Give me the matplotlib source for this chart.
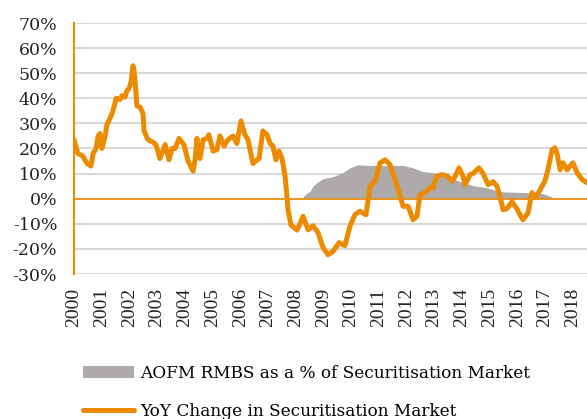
import matplotlib
matplotlib.use("Agg")
import matplotlib.pyplot as plt
from matplotlib.patches import Patch
from matplotlib.lines import Line2D
from matplotlib.ticker import FuncFormatter

# time in years since Jan 2000, values in %
yoy_t = [0.00, 0.14, 0.32, 0.47, 0.61, 0.69, 0.80, 0.87, 0.94, 1.01, 1.12, 1.19, 1.30, 1.41,
         1.52, 1.66, 1.73, 1.84, 1.91, 1.99, 2.06, 2.13, 2.17, 2.24, 2.27, 2.38, 2.49, 2.53,
         2.67, 2.85, 2.96, 3.10, 3.29, 3.43, 3.54, 3.65, 3.79, 3.97, 4.12, 4.30, 4.37, 4.44,
         4.55, 4.66, 4.80, 4.87, 5.02, 5.16, 5.27, 5.42, 5.56, 5.74, 5.88, 6.03, 6.17, 6.28,
         6.46, 6.61, 6.68, 6.82, 6.97, 7.08, 7.18, 7.29, 7.40, 7.51, 7.62, 7.73, 7.83, 8.05,
         8.16, 8.27, 8.45, 8.63, 8.81, 8.99, 9.17, 9.35, 9.57, 9.78, 9.96, 10.14, 10.32, 10.54,
         10.69, 10.87, 11.05, 11.23, 11.41, 11.59, 11.70, 11.88, 12.06, 12.24, 12.38, 12.49,
         12.67, 12.85, 12.96, 13.10, 13.29, 13.47, 13.65, 13.75, 13.90, 14.04, 14.12, 14.30,
         14.40, 14.62, 14.77, 14.95, 15.13, 15.27, 15.38, 15.49, 15.63, 15.81, 15.99, 16.10,
         16.21, 16.39, 16.53, 16.64, 16.79, 17.00, 17.11, 17.26, 17.36, 17.44, 17.55, 17.65,
         17.80, 18.01, 18.16, 18.34, 18.52]
yoy_v = [23.5, 18.0, 17.0, 14.0, 13.0, 18.0, 20.0, 25.0, 26.0, 20.0, 25.0, 29.5, 32.0, 35.0,
         40.0, 39.5, 41.0, 40.5, 43.0, 44.0, 46.5, 53.0, 51.0, 42.0, 37.0, 36.5, 34.0, 27.0,
         23.5, 22.5, 21.5, 16.0, 21.5, 15.5, 20.0, 20.0, 24.0, 21.5, 15.0, 11.0, 15.5, 24.0,
         16.0, 23.5, 24.0, 25.5, 19.0, 19.5, 25.0, 21.0, 23.5, 25.0, 22.0, 31.0, 25.5, 23.5,
         14.0, 15.5, 16.0, 27.0, 25.5, 22.0, 21.0, 15.5, 19.0, 16.0, 9.0, -4.5, -10.5, -12.5,
         -10.0, -7.0, -12.4, -10.8, -13.5, -19.5, -22.3, -21.0, -17.5, -18.7, -11.0, -6.4, -5.0, -6.4,
         5.0, 7.0, 14.3, 15.5, 13.5, 7.6, 3.6, -3.0, -3.0, -8.4, -7.0, 1.6,
         2.4, 4.4, 4.4, 9.0, 9.6, 9.0, 7.0, 8.6, 12.3, 9.0, 5.6, 9.6,
         10.0, 12.3, 10.0, 5.6, 6.8, 5.0, 0.8, -4.4, -4.0, -1.2, -4.0, -6.4,
         -8.4, -5.7, 2.4, 0.4, 2.8, 7.0, 11.5, 19.5, 20.3, 18.0, 11.5, 14.3,
         11.5, 14.3, 10.4, 7.6, 6.4]

aofm_t = [8.23, 8.34, 8.52, 8.63, 8.77, 8.99, 9.35, 9.71, 9.96, 10.25, 10.58, 11.05, 11.52,
          11.88, 12.24, 12.60, 12.96, 13.47, 13.94, 14.40, 14.91, 15.38, 15.85, 16.46, 16.93,
          17.18, 17.36]
aofm_v = [0.0, 1.6, 3.0, 5.0, 6.4, 8.0, 8.8, 10.4, 12.3, 13.5, 13.3, 13.2, 13.2,
          13.3, 12.3, 10.8, 10.4, 8.8, 6.8, 5.2, 4.4, 2.8, 2.6, 2.4, 2.0,
          1.0, 0.0]

years = list(range(2000, 2019))
orange = '#ED8B00'
grey = '#AEAAAA'

fig = plt.figure(figsize=(5.87, 4.19), dpi=100)
ax = fig.add_axes([74/587, 1-274/419, 1-74/587, (274-23)/419])

ax.fill_between(aofm_t, 0, aofm_v, color=grey, linewidth=0, zorder=2)
ax.plot(yoy_t, yoy_v, color=orange, linewidth=3.6, solid_capstyle='round',
        solid_joinstyle='round', zorder=4)
ax.axhline(0, color=orange, linewidth=1.2, zorder=3)

ax.set_xlim(0, 18.52)
ax.set_ylim(-30, 70)
ax.set_yticks(range(-30, 71, 10))
ax.yaxis.set_major_formatter(FuncFormatter(lambda v, p: '%d%%' % v))
ax.set_xticks([y - 2000 for y in years])
ax.set_xticklabels([str(y) for y in years], rotation=90, family='Liberation Serif', fontsize=14)
for lab in ax.get_yticklabels():
    lab.set_family('DejaVu Serif')
    lab.set_fontsize(12.5)
ax.tick_params(axis='both', length=0, colors='#222222')
ax.tick_params(axis='y', pad=12)
ax.tick_params(axis='x', pad=10)
ax.grid(axis='y', color='#D9D9D9', linewidth=1.5, zorder=0)
ax.set_axisbelow(True)
for s in ['top', 'right', 'bottom']:
    ax.spines[s].set_visible(False)
ax.spines['left'].set_color(orange)
ax.spines['left'].set_linewidth(1.5)
ax.spines['left'].set_zorder(5)

handles = [Patch(facecolor=grey, edgecolor='none'),
           Line2D([0], [0], color=orange, linewidth=3.6, solid_capstyle='round')]
labels = ['AOFM RMBS as a % of Securitisation Market', 'YoY Change in Securitisation Market']
fig.legend(handles, labels, loc='upper left', bbox_to_anchor=(83/587, 1-365/419),
           frameon=False, prop={'family': 'DejaVu Serif', 'size': 12.2},
           handlelength=3.0, handletextpad=0.35, labelspacing=1.25, borderpad=0, borderaxespad=0)

fig.savefig('out.png', dpi=100)
